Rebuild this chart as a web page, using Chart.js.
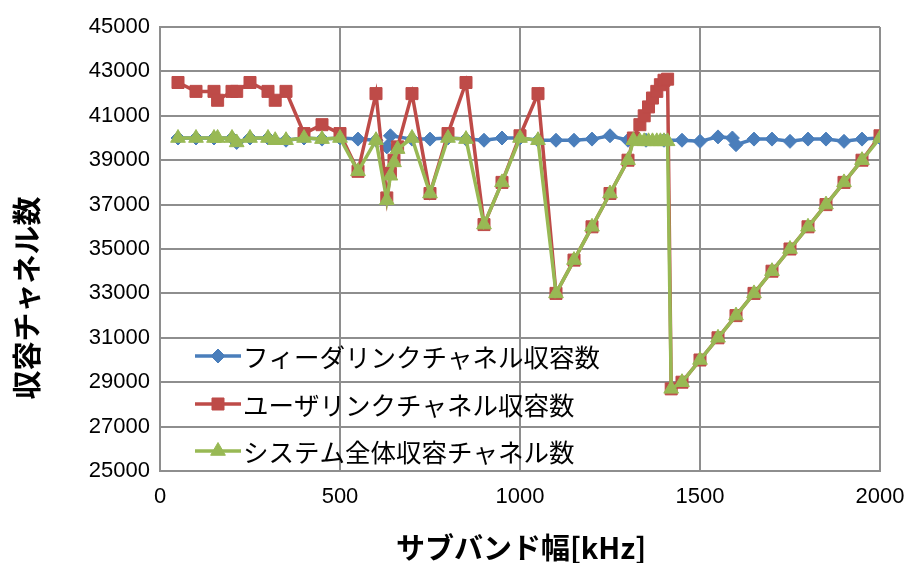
<!DOCTYPE html>
<html>
<head>
<meta charset="utf-8">
<script src="https://cdn.jsdelivr.net/npm/chart.js@4/dist/chart.umd.min.js"></script>
<style>
html,body{margin:0;padding:0;background:#ffffff;}
#wrap{width:909px;height:563px;position:relative;}
</style>
</head>
<body>
<div id="wrap"><canvas id="c" width="909" height="563"></canvas></div>
<script>
// ---- data ----
const seriesNames = ['フィーダリンクチャネル収容数', 'ユーザリンクチャネル収容数', 'システム全体収容チャネル数'];
const xTitle = 'サブバンド幅[kHz]';
const yTitle = '収容チャネル数';
const xTicks = [0, 500, 1000, 1500, 2000];
const yTicks = [25000, 27000, 29000, 31000, 33000, 35000, 37000, 39000, 41000, 43000, 45000];

const feederX = [50, 100, 150, 200, 213, 250, 300, 350, 400, 450, 500, 550, 600, 630, 640, 700, 750, 800, 850, 900, 950, 1000, 1050, 1100, 1150, 1200, 1250, 1300, 1350, 1400, 1450, 1500, 1550, 1590, 1600, 1650, 1700, 1750, 1800, 1850, 1900, 1950, 2000];
const feederY = [40000, 40000, 40000, 40000, 39800, 40000, 40000, 39900, 40000, 39950, 40000, 39950, 39900, 39600, 40100, 39950, 39950, 40000, 39950, 39900, 40000, 40000, 39900, 39900, 39900, 39950, 40100, 39900, 39900, 39900, 39900, 39850, 40050, 40000, 39700, 39950, 39950, 39850, 39950, 39950, 39850, 39950, 40000];

const userX = [50, 100, 150, 160, 200, 213, 250, 300, 320, 350, 400, 450, 500, 550, 600, 630, 640, 650, 660, 700, 750, 800, 850, 900, 950, 1000, 1050, 1100, 1150, 1200, 1250, 1300, 1315, 1333, 1345, 1357, 1368, 1380, 1390, 1400, 1410, 1420, 1450, 1500, 1550, 1600, 1650, 1700, 1750, 1800, 1850, 1900, 1950, 2000];
const userY = [42500, 42100, 42100, 41700, 42100, 42100, 42500, 42100, 41700, 42100, 40200, 40600, 40200, 38500, 42000, 37300, 38400, 39000, 39600, 42000, 37500, 40200, 42500, 36100, 38000, 40100, 42000, 33000, 34500, 36000, 37500, 39000, 40000, 40600, 41000, 41400, 41800, 42100, 42400, 42600, 42650, 28700, 29000, 30000, 31000, 32000, 33000, 34000, 35000, 36000, 37000, 38000, 39000, 40100];

const systemX = [50, 100, 150, 160, 200, 213, 250, 300, 320, 350, 400, 450, 500, 550, 600, 630, 640, 650, 660, 700, 750, 800, 850, 900, 950, 1000, 1050, 1100, 1150, 1200, 1250, 1300, 1315, 1333, 1345, 1357, 1368, 1380, 1390, 1400, 1410, 1420, 1450, 1500, 1550, 1600, 1650, 1700, 1750, 1800, 1850, 1900, 1950, 2000];
const systemY = [40000, 40000, 40000, 40000, 40000, 39800, 40000, 40000, 39900, 39900, 40000, 39950, 40000, 38500, 39900, 37200, 38300, 38900, 39500, 40000, 37500, 40000, 39950, 36100, 38000, 40000, 39900, 33000, 34500, 36000, 37500, 39000, 39900, 39850, 39850, 39850, 39850, 39850, 39850, 39850, 39850, 28700, 29000, 30000, 31000, 32000, 33000, 34000, 35000, 36000, 37000, 38000, 39000, 40000];

const colors = ['#4A7EBB', '#BE4B48', '#98B954'];
const markers = ['rectRot', 'rect', 'triangle'];
const radii = [7, 8.5, 8.5];

function pts(xs, ys) { return xs.map((x, i) => ({x: x, y: ys[i]})); }

const seriesData = [pts(feederX, feederY), pts(userX, userY), pts(systemX, systemY)];

function drawMarker(ctx, style, r, x, y) {
  if (style === 'rect') {
    const s = Math.SQRT1_2 * r;
    ctx.rect(x - s, y - s, 2 * s, 2 * s);
  } else if (style === 'rectRot') {
    ctx.moveTo(x, y - r); ctx.lineTo(x + r, y); ctx.lineTo(x, y + r); ctx.lineTo(x - r, y); ctx.closePath();
  } else {
    const a = Math.PI / 2;
    ctx.moveTo(x + Math.cos(-a) * r, y + Math.sin(-a) * r);
    ctx.lineTo(x + Math.cos(-a + 2 * Math.PI / 3) * r, y + Math.sin(-a + 2 * Math.PI / 3) * r);
    ctx.lineTo(x + Math.cos(-a + 4 * Math.PI / 3) * r, y + Math.sin(-a + 4 * Math.PI / 3) * r);
    ctx.closePath();
  }
}

const legendPlugin = {
  id: 'customLegendTitles',
  afterDraw(chart) {
    const ctx = chart.ctx;
    ctx.save();
    const ys = [356, 404, 451];
    chart.data.datasets.forEach((ds, i) => {
      const y = ys[i];
      ctx.strokeStyle = ds.borderColor;
      ctx.lineWidth = 3.5;
      ctx.beginPath();
      ctx.moveTo(195, y);
      ctx.lineTo(241, y);
      ctx.stroke();
      ctx.fillStyle = ds.backgroundColor;
      ctx.lineWidth = 1;
      ctx.beginPath();
      drawMarker(ctx, ds.pointStyle, ds.pointRadius, 218, y);
      ctx.fill();
      ctx.stroke();
      ctx.fillStyle = '#000';
      ctx.font = '25.5px "Noto Sans CJK JP"';
      ctx.textAlign = 'left';
      ctx.textBaseline = 'middle';
      ctx.fillText(seriesNames[i], 243, y + 1);
    });
    ctx.fillStyle = '#000';
    ctx.font = 'bold 29px "Noto Sans CJK JP"';
    ctx.textAlign = 'center';
    ctx.textBaseline = 'middle';
    ctx.fillText(xTitle, 521, 548);
    ctx.translate(27, 298);
    ctx.rotate(-Math.PI / 2);
    ctx.fillText(yTitle, 0, 0);
    ctx.restore();
  }
};

new Chart(document.getElementById('c'), {
  type: 'scatter',
  data: {
    datasets: seriesData.map((d, i) => ({
      label: seriesNames[i],
      data: d,
      showLine: true,
      borderColor: colors[i],
      backgroundColor: colors[i],
      borderWidth: 3.5,
      pointStyle: markers[i],
      pointRadius: radii[i],
      pointBorderWidth: 1,
      pointBackgroundColor: colors[i],
      pointBorderColor: colors[i],
      tension: 0,
      order: 2 - i
    }))
  },
  options: {
    responsive: false,
    animation: false,
    devicePixelRatio: 1,
    layout: {padding: {top: 27, right: 29, left: 0, bottom: 0}},
    plugins: {legend: {display: false}, tooltip: {enabled: false}},
    scales: {
      x: {
        type: 'linear', min: 0, max: 2000,
        afterBuildTicks: s => { s.ticks = xTicks.map(v => ({value: v})); },
        afterFit: s => { s.height = 92; s.paddingLeft = 0; s.paddingRight = 0; },
        grid: {color: '#8e8e8e', lineWidth: 2, drawTicks: false},
        border: {color: '#8e8e8e', width: 2},
        ticks: {padding: 13, color: '#000', font: {family: '"Liberation Sans"', size: 22}, callback: v => String(v), maxRotation: 0}
      },
      y: {
        type: 'linear', min: 25000, max: 45000,
        afterBuildTicks: s => { s.ticks = yTicks.map(v => ({value: v})); },
        afterFit: s => { s.width = 160; s.paddingTop = 0; s.paddingBottom = 0; },
        grid: {color: '#8e8e8e', lineWidth: 2, drawTicks: false},
        border: {color: '#8e8e8e', width: 2},
        ticks: {padding: 10, color: '#000', font: {family: '"Liberation Sans"', size: 22}, callback: v => String(v)}
      }
    }
  },
  plugins: [legendPlugin]
});
</script>
</body>
</html>
